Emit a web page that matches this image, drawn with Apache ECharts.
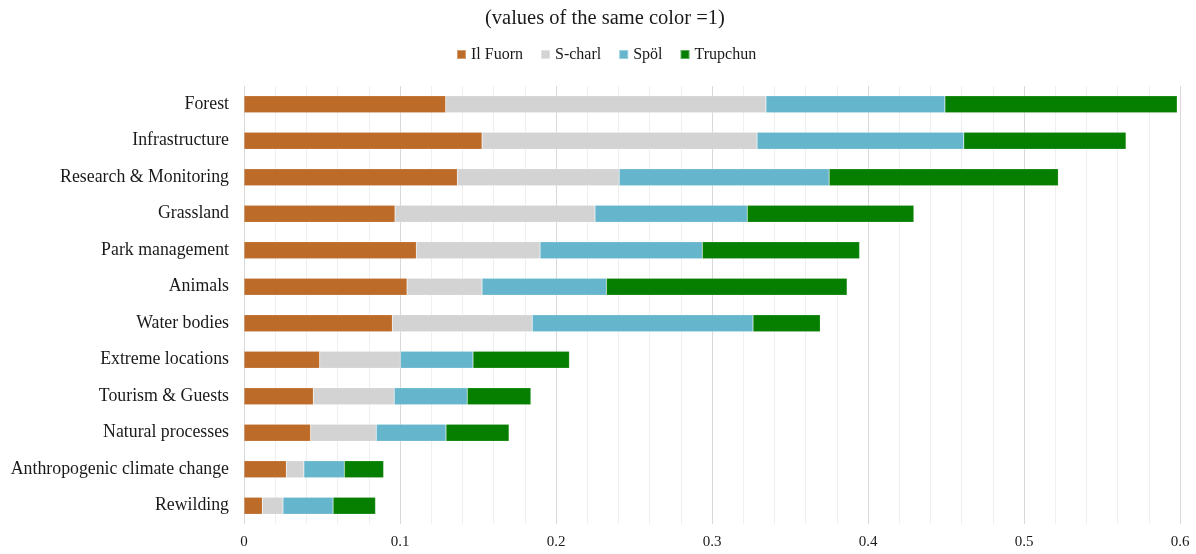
<!DOCTYPE html>
<html>
<head>
<meta charset="utf-8">
<script src="https://cdn.jsdelivr.net/npm/echarts@6/dist/echarts.min.js"></script>
<style>
  html, body { margin: 0; padding: 0; background: #fff; }
  #chart { width: 1196px; height: 554px; }
</style>
</head>
<body>
<div id="chart"></div>
<script>
// Topic shares per site; each site's values add up to 1
const categories = [
  'Forest', 'Infrastructure', 'Research & Monitoring', 'Grassland',
  'Park management', 'Animals', 'Water bodies', 'Extreme locations',
  'Tourism & Guests', 'Natural processes', 'Anthropogenic climate change', 'Rewilding'
];
const ilFuorn  = [0.1293, 0.1526, 0.1368, 0.0968, 0.1105, 0.1045, 0.0951, 0.0485, 0.0444, 0.0427, 0.0271, 0.0117];
const sCharl   = [0.2053, 0.1763, 0.1037, 0.1282, 0.0793, 0.0481, 0.0897, 0.0518, 0.0519, 0.0421, 0.0113, 0.0133];
const spol     = [0.1147, 0.1325, 0.1346, 0.0976, 0.1040, 0.0797, 0.1415, 0.0465, 0.0468, 0.0447, 0.0259, 0.0321];
const trupchun = [0.1489, 0.1040, 0.1469, 0.1068, 0.1008, 0.1543, 0.0431, 0.0618, 0.0408, 0.0404, 0.0252, 0.0272];
const xTicks = [0, 0.1, 0.2, 0.3, 0.4, 0.5, 0.6];

const siteNames = ['Il Fuorn', 'S-charl', 'Spöl', 'Trupchun'];
const siteValues = [ilFuorn, sCharl, spol, trupchun];
const siteColors = ['#bd6b28', '#d3d3d3', '#65b5cc', '#067f00'];

const serif = '"Liberation Serif", "DejaVu Serif", serif';

const chart = echarts.init(document.getElementById('chart'));
chart.setOption({
  animation: false,
  textStyle: { fontFamily: serif },
  title: {
    text: '(values of the same color =1)',
    left: 480,
    top: 3,
    textStyle: { fontFamily: serif, fontSize: 20.5, fontWeight: 'normal', color: '#1a1a1a' }
  },
  legend: {
    data: siteNames,
    top: 41.5,
    left: 451,
    icon: 'rect',
    itemWidth: 9,
    itemHeight: 9,
    itemGap: 17,
    textStyle: { fontFamily: serif, fontSize: 16, color: '#1a1a1a' }
  },
  grid: { left: 244, right: 16, top: 86, bottom: 30, containLabel: false },
  xAxis: {
    type: 'value',
    min: xTicks[0],
    max: xTicks[xTicks.length - 1],
    interval: 0.1,
    axisLine: { show: false },
    axisTick: { show: false },
    axisLabel: {
      fontFamily: serif, fontSize: 15, color: '#1a1a1a', margin: 11,
      formatter: v => String(+v.toFixed(1))
    },
    splitLine: { show: true, lineStyle: { color: '#d9d9d9', width: 1 } },
    minorTick: { show: false, splitNumber: 5 },
    minorSplitLine: { show: true, lineStyle: { color: '#efefef', width: 1 } }
  },
  yAxis: {
    type: 'category',
    data: categories,
    inverse: true,
    axisLine: { show: false },
    axisTick: { show: false },
    axisLabel: { fontFamily: serif, fontSize: 17.8, color: '#1a1a1a', margin: 15 }
  },
  series: siteNames.map((name, i) => ({
    name,
    type: 'bar',
    stack: 'total',
    barWidth: 17,
    data: siteValues[i],
    itemStyle: { color: siteColors[i], borderColor: 'rgba(255,255,255,0.35)', borderWidth: 0.5 }
  }))
});
</script>
</body>
</html>
